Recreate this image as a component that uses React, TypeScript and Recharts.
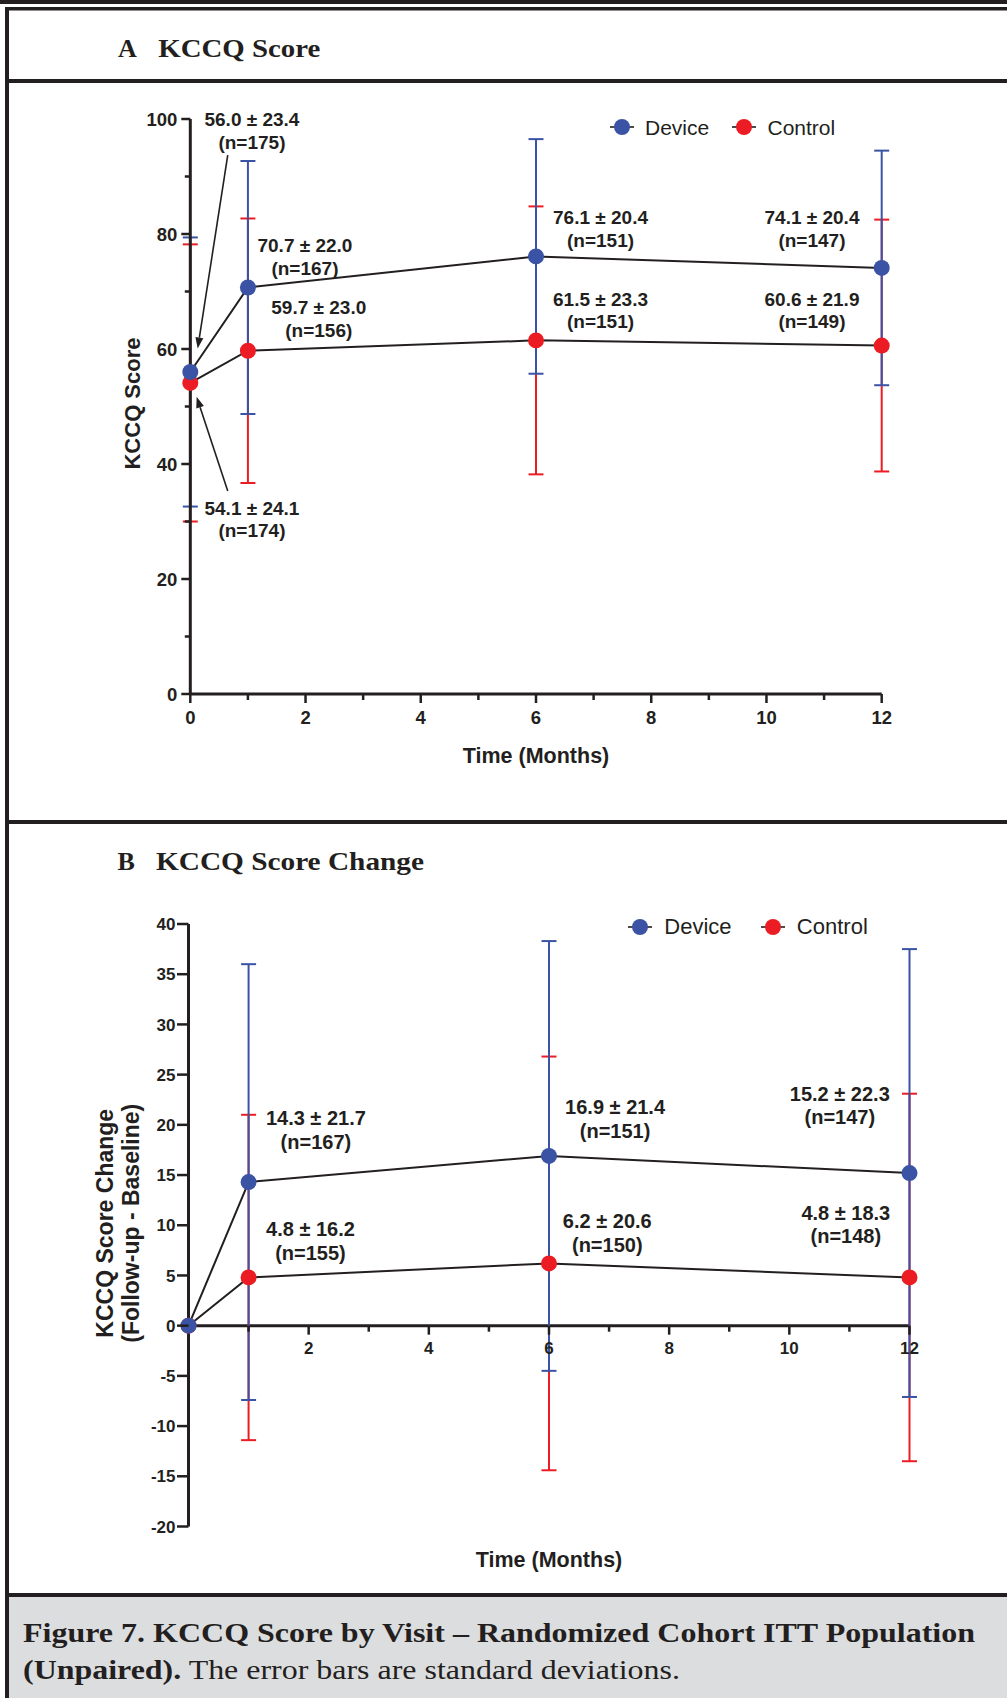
import React from "react";
import { LineChart, Line, XAxis, YAxis, ErrorBar, ReferenceDot, ReferenceLine, Legend } from "recharts";

const INK = "#231f20";
const BLUE = "#3a53a4";
const RED = "#ec1c24";
const GRAY = "#dcdddf";
const SANS = '"Liberation Sans", Arial, Helvetica, sans-serif';
const SERIF = '"Liberation Serif", "Times New Roman", serif';

// visits, in months
const months = [0, 1, 6, 12];

// A: KCCQ score (mean, SD, n)
const scoreDevice = [56.0, 70.7, 76.1, 74.1];
const scoreDeviceSd = [23.4, 22.0, 20.4, 20.4];
const scoreDeviceN = [175, 167, 151, 147];
const scoreControl = [54.1, 59.7, 61.5, 60.6];
const scoreControlSd = [24.1, 23.0, 23.3, 21.9];
const scoreControlN = [174, 156, 151, 149];

// B: change from baseline (no SD at baseline)
const changeDevice = [0, 14.3, 16.9, 15.2];
const changeDeviceSd = [null, 21.7, 21.4, 22.3];
const changeDeviceN = [null, 167, 151, 147];
const changeControl = [0, 4.8, 6.2, 4.8];
const changeControlSd = [null, 16.2, 20.6, 18.3];
const changeControlN = [null, 155, 150, 148];

const seriesNames = ["Device", "Control"];

const monthTicks = [0, 1, 2, 3, 4, 5, 6, 7, 8, 9, 10, 11, 12];
const scoreTicks = [0, 10, 20, 30, 40, 50, 60, 70, 80, 90, 100];
const changeTicks = [-20, -15, -10, -5, 0, 5, 10, 15, 20, 25, 30, 35, 40];

// where each "mean ± SD (n)" note sits, [month, value] of its first line
const scoreDeviceNoteAt = [[1.07, 99.9], [1.99, 78.0], [7.12, 82.9], [10.79, 82.9]];
const scoreControlNoteAt = [[1.07, 32.4], [2.23, 67.25], [7.12, 68.7], [10.79, 68.7]];
const changeDeviceNoteAt = [null, [2.12, 20.7], [7.1, 21.75], [10.84, 23.1]];
const changeControlNoteAt = [null, [2.03, 9.6], [6.97, 10.4], [10.94, 11.25]];

// leader arrows for the baseline notes in A
const scoreArrows = [
  [[0.65, 93.7], [0.128, 60.1]],
  [[0.65, 35.3], [0.11, 51.7]],
];

const scoreRows = months.map((m, i) => ({
  month: m,
  device: scoreDevice[i],
  deviceSd: scoreDeviceSd[i],
  control: scoreControl[i],
  controlSd: scoreControlSd[i],
}));

const changeRows = months.map((m, i) => ({
  month: m,
  device: changeDevice[i],
  deviceSd: changeDeviceSd[i],
  control: changeControl[i],
  controlSd: changeControlSd[i],
}));

function noteLines(mean: number, sd: number | null, n: number | null) {
  return [`${mean.toFixed(1)} ± ${(sd ?? 0).toFixed(1)}`, `(n=${n})`];
}

function buildNotes(at: any[], mean: number[], sd: any[], n: any[]) {
  return at
    .map((pos, i) => (pos ? { x: pos[0], y: pos[1], lines: noteLines(mean[i], sd[i], n[i]) } : null))
    .filter(Boolean) as { x: number; y: number; lines: string[] }[];
}

const scoreNotes = [
  ...buildNotes(scoreDeviceNoteAt, scoreDevice, scoreDeviceSd, scoreDeviceN),
  ...buildNotes(scoreControlNoteAt, scoreControl, scoreControlSd, scoreControlN),
];
const changeNotes = [
  ...buildNotes(changeDeviceNoteAt, changeDevice, changeDeviceSd, changeDeviceN),
  ...buildNotes(changeControlNoteAt, changeControl, changeControlSd, changeControlN),
];

const noteShape = (lines: string[], size: number, gap: number) => (p: any) => (
  <text x={p.cx} y={p.cy} textAnchor="middle" fontFamily={SANS} fontSize={size} fontWeight="bold" fill={INK}>
    {lines.map((l, i) => (
      <tspan key={i} x={p.cx} dy={i === 0 ? "0.36em" : gap}>
        {l}
      </tspan>
    ))}
  </text>
);

function Leader(p: any) {
  const { x1, y1, x2, y2 } = p;
  const a = Math.atan2(y2 - y1, x2 - x1);
  const len = 11;
  const half = 4;
  const bx = x2 - len * Math.cos(a);
  const by = y2 - len * Math.sin(a);
  const pts = `${x2},${y2} ${bx - half * Math.sin(a)},${by + half * Math.cos(a)} ${bx + half * Math.sin(a)},${by - half * Math.cos(a)}`;
  return (
    <g>
      <line x1={x1} y1={y1} x2={bx} y2={by} stroke={INK} strokeWidth={1.6} />
      <polygon points={pts} fill={INK} />
    </g>
  );
}

function ScoreYTick(p: any) {
  const v = p.payload.value;
  const major = v % 20 === 0;
  return (
    <g>
      <line x1={p.x} y1={p.y} x2={p.x - (major ? 9 : 5.5)} y2={p.y} stroke={INK} strokeWidth={2.5} />
      {major && (
        <text x={p.x - 13} y={p.y} dy="0.36em" textAnchor="end" fontFamily={SANS} fontSize={18.5} fontWeight="bold" fill={INK}>
          {v}
        </text>
      )}
    </g>
  );
}

function ScoreXTick(p: any) {
  const v = p.payload.value;
  const major = v % 2 === 0;
  return (
    <g>
      <line x1={p.x} y1={p.y} x2={p.x} y2={p.y + (major ? 9 : 6)} stroke={INK} strokeWidth={2.5} />
      {major && (
        <text x={p.x} y={p.y + 23} dy="0.36em" textAnchor="middle" fontFamily={SANS} fontSize={18.5} fontWeight="bold" fill={INK}>
          {v}
        </text>
      )}
    </g>
  );
}

function ChangeYTick(p: any) {
  const v = p.payload.value;
  return (
    <g>
      <line x1={p.x} y1={p.y} x2={p.x - 11.5} y2={p.y} stroke={INK} strokeWidth={2.5} />
      <text x={p.x - 13} y={p.y} dy="0.36em" textAnchor="end" fontFamily={SANS} fontSize={17} fontWeight="bold" fill={INK}>
        {v}
      </text>
    </g>
  );
}

// x ticks of B hang off the zero line, so they are placed as reference dots at (month, 0)
const changeMonthTick = (m: number) => (p: any) => {
  const major = m % 2 === 0;
  return (
    <g>
      <line x1={p.cx} y1={p.cy} x2={p.cx} y2={p.cy + (major ? 9 : 6)} stroke={INK} strokeWidth={2.5} />
      {major && (
        <text x={p.cx} y={p.cy + 22.3} dy="0.36em" textAnchor="middle" fontFamily={SANS} fontSize={17} fontWeight="bold" fill={INK}>
          {m}
        </text>
      )}
    </g>
  );
};

function LegendKey({ fontSize, textGap, itemGap }: { fontSize: number; textGap: number; itemGap: number }) {
  const colors = [BLUE, RED];
  return (
    <div style={{ display: "flex", alignItems: "center", fontFamily: SANS, fontSize, color: INK, lineHeight: 1 }}>
      {seriesNames.map((name, i) => (
        <div key={name} style={{ display: "flex", alignItems: "center", marginRight: itemGap }}>
          <svg width={24} height={18} style={{ display: "block" }}>
            <line x1={0} x2={24} y1={9} y2={9} stroke={INK} strokeWidth={1.6} />
            <circle cx={12} cy={9} r={8} fill={colors[i]} />
          </svg>
          <span style={{ marginLeft: textGap }}>{name}</span>
        </div>
      ))}
    </div>
  );
}

const axisTitle = { fontFamily: SANS, fontWeight: "bold" as const, fill: INK };

function ScorePanel() {
  return (
    <LineChart width={1007} height={740} data={scoreRows} margin={{ top: 36, right: 125.3, bottom: 69, left: 110.3 }}>
      <XAxis
        type="number"
        dataKey="month"
        domain={[0, 12]}
        ticks={monthTicks}
        interval={0}
        height={60}
        tickSize={0}
        tickMargin={0}
        tickLine={false}
        axisLine={{ stroke: INK, strokeWidth: 3 }}
        tick={(p: any) => <ScoreXTick {...p} />}
        label={(p: any) => {
          const vb = p.viewBox || { x: 190.3, y: 611, width: 691.4 };
          return (
            <text x={vb.x + vb.width / 2} y={vb.y + 61} dy="0.36em" textAnchor="middle" fontSize={21.5} {...axisTitle}>
              Time (Months)
            </text>
          );
        }}
      />
      <YAxis
        type="number"
        domain={[0, 100]}
        ticks={scoreTicks}
        interval={0}
        width={80}
        tickSize={0}
        tickMargin={0}
        tickLine={false}
        axisLine={{ stroke: INK, strokeWidth: 3 }}
        tick={(p: any) => <ScoreYTick {...p} />}
        label={(p: any) => {
          const vb = p.viewBox || { x: 110.3, y: 36, height: 575 };
          const cx = vb.x + 21.7;
          const cy = vb.y + vb.height / 2 - 3;
          return (
            <text x={cx} y={cy} dy="0.36em" textAnchor="middle" fontSize={22} transform={`rotate(-90, ${cx}, ${cy})`} {...axisTitle}>
              KCCQ Score
            </text>
          );
        }}
      />
      <Legend
        layout="horizontal"
        verticalAlign="middle"
        align="center"
        wrapperStyle={{ left: 609.7, top: 33.8, width: 320 }}
        content={() => <LegendKey fontSize={21} textGap={11.3} itemGap={23} />}
      />
      {scoreArrows.map((seg, i) => (
        <ReferenceLine
          key={`arrow-${i}`}
          segment={[{ x: seg[0][0], y: seg[0][1] }, { x: seg[1][0], y: seg[1][1] }]}
          shape={(p: any) => <Leader {...p} />}
        />
      ))}
      <Line type="linear" dataKey="control" name={seriesNames[1]} stroke={INK} strokeWidth={2} dot={{ r: 8, fill: RED, stroke: RED, strokeWidth: 0 }} activeDot={false} isAnimationActive={false}>
        <ErrorBar dataKey="controlSd" direction="y" width={7.5} stroke={RED} strokeWidth={2} isAnimationActive={false} />
      </Line>
      <Line type="linear" dataKey="device" name={seriesNames[0]} stroke={INK} strokeWidth={2} dot={{ r: 8, fill: BLUE, stroke: BLUE, strokeWidth: 0 }} activeDot={false} isAnimationActive={false}>
        <ErrorBar dataKey="deviceSd" direction="y" width={7.5} stroke={BLUE} strokeWidth={2} isAnimationActive={false} />
      </Line>
      {scoreNotes.map((n, i) => (
        <ReferenceDot key={`note-${i}`} x={n.x} y={n.y} r={0} shape={noteShape(n.lines, 19, 22.5)} />
      ))}
    </LineChart>
  );
}

function ChangePanel() {
  return (
    <LineChart width={1007} height={769} data={changeRows} margin={{ top: 100, right: 97.5, bottom: 26.5, left: 108.5 }}>
      <XAxis
        type="number"
        dataKey="month"
        domain={[0, 12]}
        ticks={monthTicks}
        interval={0}
        height={40}
        tick={false}
        tickLine={false}
        axisLine={false}
        label={(p: any) => {
          const vb = p.viewBox || { x: 188.5, y: 702.5, width: 721 };
          return (
            <text x={vb.x + vb.width / 2} y={vb.y + 32.8} dy="0.36em" textAnchor="middle" fontSize={21.5} {...axisTitle}>
              Time (Months)
            </text>
          );
        }}
      />
      <YAxis
        type="number"
        domain={[-20, 40]}
        ticks={changeTicks}
        interval={0}
        width={80}
        tickSize={0}
        tickMargin={0}
        tickLine={false}
        axisLine={{ stroke: INK, strokeWidth: 3 }}
        tick={(p: any) => <ChangeYTick {...p} />}
        label={(p: any) => {
          const vb = p.viewBox || { x: 108.5, y: 100, height: 602.5 };
          const cy = vb.y + vb.height / 2 - 2;
          const x1 = vb.x - 4;
          const x2 = vb.x + 22;
          return (
            <g>
              <text x={x1} y={cy} dy="0.36em" textAnchor="middle" fontSize={23} transform={`rotate(-90, ${x1}, ${cy})`} {...axisTitle}>
                KCCQ Score Change
              </text>
              <text x={x2} y={cy} dy="0.36em" textAnchor="middle" fontSize={23} transform={`rotate(-90, ${x2}, ${cy})`} {...axisTitle}>
                (Follow-up - Baseline)
              </text>
            </g>
          );
        }}
      />
      <Legend
        layout="horizontal"
        verticalAlign="middle"
        align="center"
        wrapperStyle={{ left: 628, top: 92.3, width: 320 }}
        content={() => <LegendKey fontSize={22} textGap={12.3} itemGap={29} />}
      />
      <ReferenceLine y={0} stroke={INK} strokeWidth={3} />
      {monthTicks
        .filter((m) => m > 0)
        .map((m) => (
          <ReferenceDot key={`mt-${m}`} x={m} y={0} r={0} shape={changeMonthTick(m)} />
        ))}
      <Line type="linear" dataKey="control" name={seriesNames[1]} stroke={INK} strokeWidth={2} dot={{ r: 8, fill: RED, stroke: RED, strokeWidth: 0 }} activeDot={false} isAnimationActive={false}>
        <ErrorBar dataKey="controlSd" direction="y" width={7.5} stroke={RED} strokeWidth={2} isAnimationActive={false} />
      </Line>
      <Line type="linear" dataKey="device" name={seriesNames[0]} stroke={INK} strokeWidth={2} dot={{ r: 8, fill: BLUE, stroke: BLUE, strokeWidth: 0 }} activeDot={false} isAnimationActive={false}>
        <ErrorBar dataKey="deviceSd" direction="y" width={7.5} stroke={BLUE} strokeWidth={2} isAnimationActive={false} />
      </Line>
      {changeNotes.map((n, i) => (
        <ReferenceDot key={`note-${i}`} x={n.x} y={n.y} r={0} shape={noteShape(n.lines, 20, 23.5)} />
      ))}
    </LineChart>
  );
}

export default function App() {
  const titleFont = { fontFamily: SERIF, fontWeight: "bold" as const, fontSize: 26, fill: INK };
  return (
    <div style={{ position: "absolute", left: 0, top: 0, width: 1007, height: 1698, background: "#fff", overflow: "hidden" }}>
      <svg width={1007} height={1698} style={{ position: "absolute", left: 0, top: 0 }}>
        <rect x={0} y={0} width={1007} height={4} fill={INK} />
        <rect x={5} y={7} width={1002} height={3.5} fill={INK} />
        <rect x={5} y={7} width={4} height={1691} fill={INK} />
        <rect x={5} y={79} width={1002} height={4} fill={INK} />
        <rect x={5} y={820} width={1002} height={4} fill={INK} />
        <rect x={9} y={1597} width={998} height={101} fill={GRAY} />
        <rect x={5} y={1593} width={1002} height={4} fill={INK} />
        <text x={118} y={57.3} {...titleFont}>A</text>
        <text x={158.3} y={57.3} textLength={162} lengthAdjust="spacingAndGlyphs" {...titleFont}>KCCQ Score</text>
        <text x={117.5} y={869.5} {...titleFont}>B</text>
        <text x={156} y={869.5} textLength={268} lengthAdjust="spacingAndGlyphs" {...titleFont}>KCCQ Score Change</text>
        <text x={23} y={1642} textLength={952} lengthAdjust="spacingAndGlyphs" fontFamily={SERIF} fontWeight="bold" fontSize={28} fill={INK}>
          Figure 7. KCCQ Score by Visit – Randomized Cohort ITT Population
        </text>
        <text x={23} y={1679} textLength={657} lengthAdjust="spacingAndGlyphs" fontFamily={SERIF} fontSize={28} fill={INK}>
          <tspan fontWeight="bold">(Unpaired).</tspan> The error bars are standard deviations.
        </text>
      </svg>
      <div style={{ position: "absolute", left: 0, top: 83 }}>
        <ScorePanel />
      </div>
      <div style={{ position: "absolute", left: 0, top: 824 }}>
        <ChangePanel />
      </div>
    </div>
  );
}
